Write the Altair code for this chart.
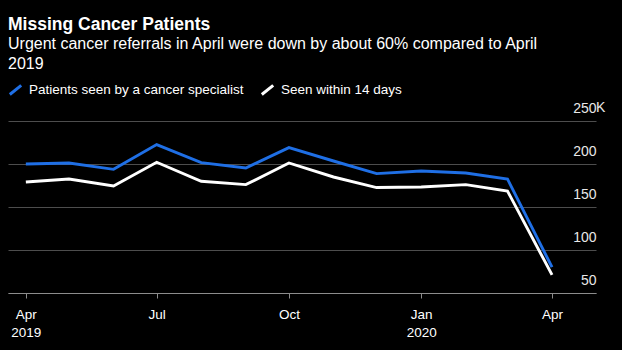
import altair as alt
import pandas as pd

months = ["2019-04-01", "2019-05-01", "2019-06-01", "2019-07-01", "2019-08-01",
          "2019-09-01", "2019-10-01", "2019-11-01", "2019-12-01", "2020-01-01",
          "2020-02-01", "2020-03-01", "2020-04-01"]
specialist = [200000, 201200, 193800, 222600, 201600, 195300, 219000, 203500,
              188800, 191900, 189500, 182600, 80000]
within14 = [179000, 182600, 174400, 202000, 179900, 176000, 201200, 184900,
            172600, 173300, 176000, 168600, 71000]
series_names = ["Patients seen by a cancer specialist", "Seen within 14 days"]
series_colors = ["#1f6fe5", "#ffffff"]
y_ticks = [50000, 100000, 150000, 200000, 250000]

FONT = "Liberation Sans"

df = pd.DataFrame({
    "date": months * 2,
    "value": specialist + within14,
    "series": [series_names[0]] * len(months) + [series_names[1]] * len(months),
})

x_ticks = [
    alt.DateTime(year=2019, month=4, date=1, utc=True),
    alt.DateTime(year=2019, month=7, date=1, utc=True),
    alt.DateTime(year=2019, month=10, date=1, utc=True),
    alt.DateTime(year=2020, month=1, date=1, utc=True),
    alt.DateTime(year=2020, month=4, date=1, utc=True),
]
x_domain = [
    alt.DateTime(year=2019, month=3, date=19, hours=14, utc=True),
    alt.DateTime(year=2020, month=5, date=1, hours=14, utc=True),
]

x_label_expr = (
    "(utcFormat(datum.value, '%m') == '01' || "
    "(utcFormat(datum.value, '%Y') == '2019' && utcFormat(datum.value, '%m') == '04')) "
    "? [utcFormat(datum.value, '%b'), utcFormat(datum.value, '%Y')] "
    ": utcFormat(datum.value, '%b')"
)

y_scale = alt.Scale(domain=[50000, 250000], nice=False, zero=False)

lines = alt.Chart(df).mark_line(strokeWidth=2.9, strokeJoin="miter").encode(
    x=alt.X(
        "date:T",
        scale=alt.Scale(type="utc", domain=x_domain),
        axis=alt.Axis(
            values=x_ticks,
            labelExpr=x_label_expr,
            title=None,
            grid=False,
            domainColor="#8c8c8c",
            domainWidth=1,
            tickColor="#8c8c8c",
            tickSize=5,
            labelPadding=9,
            labelFont=FONT,
            labelFontSize=13.5,
            labelColor="#ffffff",
            labelLineHeight=18,
            labelBaseline="top",
            labelFlush=False,
        ),
    ),
    y=alt.Y(
        "value:Q",
        scale=y_scale,
        axis=alt.Axis(
            orient="right",
            values=y_ticks,
            labelExpr="format(datum.value / 1000, 'd')",
            title=None,
            domain=False,
            ticks=False,
            tickSize=0,
            grid=True,
            gridColor="#4d4d4d",
            gridWidth=1,
            labelAlign="right",
            labelBaseline="alphabetic",
            labelPadding=0,
            labelOffset=-9,
            labelFont=FONT,
            labelFontSize=14,
            labelColor="#e8e8e8",
            labelFlush=False,
        ),
    ),
    color=alt.Color(
        "series:N",
        scale=alt.Scale(domain=series_names, range=series_colors),
        legend=alt.Legend(
            title=None,
            orient="none",
            legendX=0,
            legendY=-39,
            direction="horizontal",
            columns=2,
            symbolType="M-1,0.8L1,-0.8",
            symbolSize=130,
            symbolStrokeWidth=3,
            labelFont=FONT,
            labelFontSize=13.5,
            labelColor="#ffffff",
            labelLimit=0,
            labelOffset=6,
            columnPadding=11,
        ),
    ),
)

k_label = alt.Chart(pd.DataFrame({"t": ["K"]})).mark_text(
    align="left", baseline="alphabetic", dy=-9, font=FONT, fontSize=14,
    color="#e8e8e8",
).encode(
    text="t:N",
    x=alt.value(588),
    y=alt.datum(250000),
)

chart = alt.layer(lines, k_label).properties(
    width=588,
    height=172,
    title=alt.TitleParams(
        text="Missing Cancer Patients",
        subtitle=["Urgent cancer referrals in April were down by about 60% compared to April", "2019"],
        anchor="start",
        frame="group",
        font=FONT,
        fontSize=17.5,
        fontWeight="bold",
        color="#ffffff",
        subtitleFont=FONT,
        subtitleFontSize=16,
        subtitleColor="#ffffff",
        subtitleLineHeight=20,
        subtitlePadding=3,
        offset=10,
    ),
    autosize=alt.AutoSizeParams(type="none"),
    padding={"left": 8, "top": 121, "right": 26, "bottom": 57},
).configure(
    background="#000000",
).configure_view(
    stroke=None,
)

chart.save("out.html", embed_options={"renderer": "svg", "actions": False})
